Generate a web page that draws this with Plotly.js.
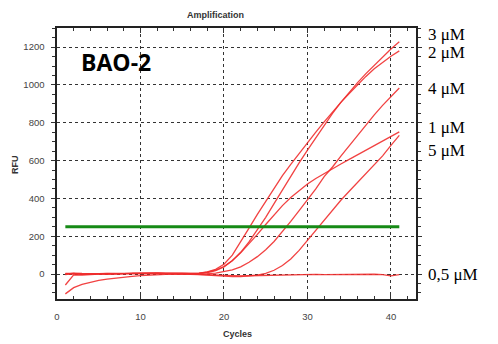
<!DOCTYPE html>
<html>
<head>
<meta charset="utf-8">
<script src="https://cdn.plot.ly/plotly-3.0.1.min.js"></script>
<style>html,body{margin:0;padding:0;background:#fff;}#chart{width:498px;height:344px;}</style>
</head>
<body>
<div id="chart"></div>
<script>
// Data
const cycles = [1,2,3,4,5,6,7,8,9,10,11,12,13,14,15,16,17,18,19,20,21,22,23,24,25,26,27,28,29,30,31,32,33,34,35,36,37,38,39,40,41];

const rfu3uM = [-3,2,0,2,1,3,2,1,3,5,4,3,5,4,3,2,4,8,18,38,70,115,170,232,300,372,445,518,588,655,722,788,850,908,962,1012,1060,1105,1148,1190,1228];
const rfu2uM = [2,5,3,1,2,0,1,3,4,3,5,6,4,3,2,3,5,12,25,52,100,168,243,315,385,455,520,580,638,695,750,805,858,908,955,1002,1045,1085,1120,1152,1180];
const rfu4uM = [-58,-4,-6,-2,0,1,2,0,1,2,3,2,3,1,2,0,0,2,5,12,22,38,62,92,128,172,222,278,335,392,450,515,566,624,680,736,790,842,892,940,984];
const rfu1uM = [4,0,-2,1,3,2,4,3,2,4,3,5,6,4,5,3,4,10,20,40,72,112,160,210,262,314,362,405,443,476,505,532,557,582,606,630,655,680,705,730,752];
const rfu5uM = [-105,-72,-55,-43,-34,-27,-21,-16,-12,-8,-5,-3,-2,-1,0,-1,-3,-6,-9,-12,-13,-13,-11,-6,4,20,45,80,125,178,233,288,340,390,438,486,534,580,625,680,733];
const rfu05uM = [0,3,-2,1,2,0,2,1,3,2,4,3,2,3,1,0,-2,-4,-6,-8,-9,-10,-9,-8,-6,-5,-4,-3,-4,-3,-2,-3,-2,-1,-2,-3,-2,-1,-3,-10,-3];

const thresholdX = [1, 41];
const thresholdY = [250, 250];

const seriesNames = ['3 μM','2 μM','4 μM','1 μM','5 μM','0,5 μM'];
const seriesValues = [rfu3uM, rfu2uM, rfu4uM, rfu1uM, rfu5uM, rfu05uM];

const xTicks = [0,10,20,30,40];
const yTicks = [0,200,400,600,800,1000,1200];

const red = 'rgba(240,45,45,0.9)';
const traces = seriesValues.map((v, i) => ({
  x: cycles, y: v, type: 'scatter', mode: 'lines', name: seriesNames[i],
  line: {color: red, width: 1.3}, hoverinfo: 'skip'
}));
traces.push({
  x: thresholdX, y: thresholdY, type: 'scatter', mode: 'lines', name: 'threshold',
  line: {color: '#168a16', width: 3}, hoverinfo: 'skip'
});

const tickFont = {family: 'Liberation Sans, Arial, sans-serif', size: 9.5, color: '#444'};
const boldFont = {family: 'Liberation Sans, Arial, sans-serif', size: 9, color: '#333', weight: 'bold'};
const serif = {family: 'Liberation Serif, Times New Roman, serif', size: 17, color: '#000'};

// pixel helpers for annotation placement (plot area: x 57..416, y 28..299)
const px = x => (x - 57) / 359;
const py = y => (299 - y) / 271;

const labelY = [35, 53, 89, 127.5, 150, 274];
const annotations = seriesNames.map((n, i) => ({
  xref: 'paper', yref: 'paper', x: px(427), y: py(labelY[i]),
  xanchor: 'left', yanchor: 'middle', text: n, showarrow: false, font: serif, borderpad: 0
}));
annotations.push(
  {xref:'paper', yref:'paper', x: px(215.5), y: py(15), text: '<b>Amplification</b>', showarrow:false, font: boldFont, xanchor:'center', yanchor:'middle'},
  {xref:'paper', yref:'paper', x: px(15), y: py(165), text: '<b>RFU</b>', showarrow:false, font: boldFont, textangle: -90, xanchor:'center', yanchor:'middle'},
  {xref:'paper', yref:'paper', x: px(237), y: py(334), text: '<b>Cycles</b>', showarrow:false, font: boldFont, xanchor:'center', yanchor:'middle'},
  {xref:'paper', yref:'paper', x: px(116), y: py(61.5), text: '<b>BAO-2</b>', showarrow:false, font: {family:'Open Sans, sans-serif', size: 23, color:'#000', weight: 800}, xanchor:'center', yanchor:'middle'}
);

const layout = {
  width: 498, height: 344,
  margin: {l: 57, r: 82, t: 28, b: 45, pad: 0},
  paper_bgcolor: '#fff', plot_bgcolor: '#fff',
  showlegend: false,
  xaxis: {
    range: [0, 43], tickvals: xTicks, ticktext: xTicks.map(String),
    showline: true, linecolor: '#222', linewidth: 1.6, mirror: 'ticks',
    ticks: 'inside', ticklen: 5, tickcolor: '#333', tickwidth: 1,
    minor: {dtick: 2, tick0: 0, ticks: 'inside', ticklen: 3, tickcolor: '#333', showgrid: false},
    showgrid: true, gridcolor: '#333', griddash: 'dot', gridwidth: 1,
    zeroline: false, tickfont: tickFont, ticklabelstandoff: 8
  },
  yaxis: {
    range: [-132, 1301], tickvals: yTicks, ticktext: yTicks.map(String),
    showline: true, linecolor: '#222', linewidth: 1.6, mirror: 'ticks',
    ticks: 'outside', ticklen: 4, tickcolor: '#333', tickwidth: 1,
    minor: {dtick: 50, tick0: 0, ticks: 'outside', ticklen: 3, tickcolor: '#333', showgrid: false},
    showgrid: true, gridcolor: '#333', griddash: 'dot', gridwidth: 1,
    zeroline: false, tickfont: tickFont, ticklabelstandoff: 5
  },
  annotations: annotations
};

Plotly.newPlot('chart', traces, layout, {staticPlot: true, displayModeBar: false});
</script>
</body>
</html>
